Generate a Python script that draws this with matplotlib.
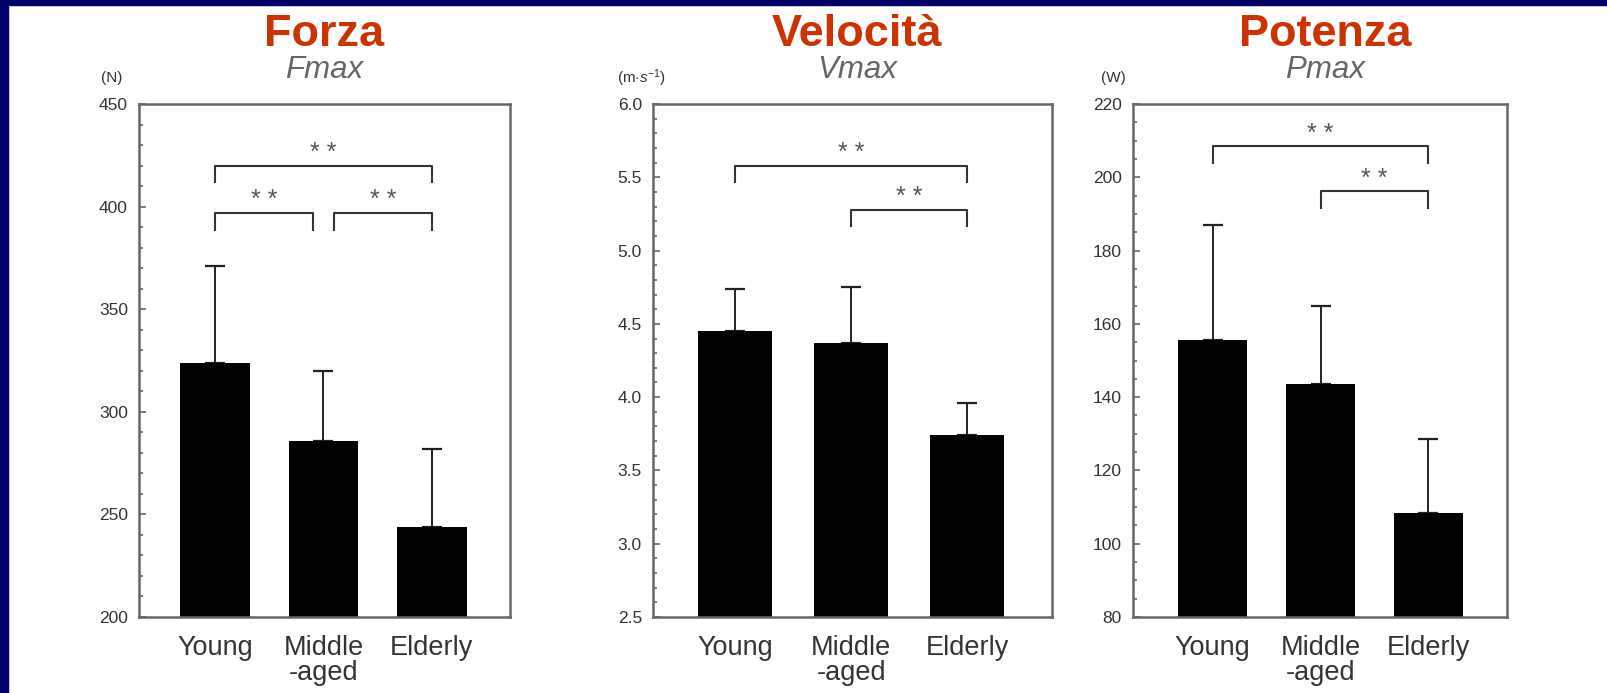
import matplotlib.pyplot as plt
import numpy as np
from matplotlib.patches import Rectangle
from matplotlib.ticker import MultipleLocator, FormatStrFormatter

plt.rcParams['font.family'] = ['Liberation Sans', 'DejaVu Sans']
plt.rcParams['mathtext.fontset'] = 'custom'
plt.rcParams['mathtext.rm'] = 'Liberation Sans'
plt.rcParams['mathtext.it'] = 'Liberation Sans:italic'

groups = ['Young', 'Middle\n-aged', 'Elderly']

titles = ['Forza', 'Velocità', 'Potenza']
subtitles = ['Fmax', 'Vmax', 'Pmax']
units = ['(N)', '(m$\\cdot$$s^{-1}$)', '(W)']

force_mean = [324, 286, 244]
force_sd = [47, 34, 38]
speed_mean = [4.45, 4.37, 3.74]
speed_sd = [0.29, 0.38, 0.22]
power_mean = [155.5, 143.5, 108.5]
power_sd = [31.5, 21.5, 20.0]

y_limits = [(200, 450), (2.5, 6.0), (80, 220)]
y_major = [50, 0.5, 20]
y_minor = [10, 0.1, 5]
y_fmt = ['%d', '%.1f', '%d']

# significance brackets: (group a, group b, bracket height)
force_sig = [(0, 2, 420), (0, 1, 397), (1, 2, 397)]
speed_sig = [(0, 2, 5.58), (1, 2, 5.28)]
power_sig = [(0, 2, 208.5), (1, 2, 196.3)]

means = [force_mean, speed_mean, power_mean]
sds = [force_sd, speed_sd, power_sd]
sigs = [force_sig, speed_sig, power_sig]

W, H = 1608, 693
fig = plt.figure(figsize=(W / 100, H / 100), dpi=100)
fig.patch.set_facecolor('white')

# navy slide frame on the left and top edges
fig.patches.append(Rectangle((0, 0), 8 / W, 1, transform=fig.transFigure,
                             color='#000066', zorder=0))
fig.patches.append(Rectangle((0, 1 - 5 / H), 1, 5 / H, transform=fig.transFigure,
                             color='#000066', zorder=0))

# axes boxes in pixels: left, right
boxes = [(139, 510), (653, 1052), (1133, 1507)]
ax_top, ax_bottom = 104, 617
unit_pos = [(-0.073, 1.05), (-0.03, 1.05), (-0.053, 1.05)]
xlims = [(-0.70, 2.72), (-0.71, 2.73), (-0.74, 2.73)]
title_shift = [0, 5, 5]

text_col = '#333333'
line_col = '#666666'

for k in range(3):
    l, r = boxes[k]
    ax = fig.add_axes([l / W, (H - ax_bottom) / H, (r - l) / W, (ax_bottom - ax_top) / H])
    x = np.arange(len(groups))
    ax.bar(x, means[k], width=0.64, color='black', zorder=2)
    ax.errorbar(x, means[k], yerr=[np.zeros(3), sds[k]], fmt='none',
                ecolor='#222222', elinewidth=1.4, capsize=7, capthick=1.6, zorder=1)

    lo, hi = y_limits[k]
    rng = hi - lo
    ax.set_ylim(lo, hi)
    ax.set_xlim(*xlims[k])
    ax.yaxis.set_major_locator(MultipleLocator(y_major[k]))
    ax.yaxis.set_minor_locator(MultipleLocator(y_minor[k]))
    ax.yaxis.set_major_formatter(FormatStrFormatter(y_fmt[k]))
    ax.tick_params(axis='y', which='major', direction='in', length=5, width=1.2,
                   color=line_col, labelsize=12.5, labelcolor=text_col, pad=8)
    ax.tick_params(axis='y', which='minor', direction='in', length=3, width=1.2,
                   color=line_col)
    ax.set_xticks(x)
    ax.set_xticklabels(groups, fontsize=19.5, color=text_col, linespacing=0.95)
    ax.tick_params(axis='x', length=0, pad=13)
    for s in ax.spines.values():
        s.set_color(line_col)
        s.set_linewidth(1.8)

    # brackets; neighbouring brackets on the same level leave a small gap
    drop = 0.033 * rng
    for a, b, yb in sigs[k]:
        x1, x2 = a, b
        for a2, b2, y2 in sigs[k]:
            if y2 == yb and b2 == a and (a2, b2) != (a, b):
                x1 += 0.1
            if y2 == yb and a2 == b and (a2, b2) != (a, b):
                x2 -= 0.1
        ax.plot([x1, x1, x2, x2], [yb - drop, yb, yb, yb - drop],
                color='#333333', lw=1.5, zorder=3)
        ax.text((x1 + x2) / 2, yb + 0.024 * rng, '* *', ha='center', va='center',
                fontsize=18, color='#555555')

    center = ((l + r) / 2 + title_shift[k]) / W
    fig.text(center, 1 - 34 / H, titles[k], ha='center', va='center',
             fontsize=32.5, fontweight='bold', color='#cc3300')
    fig.text(center, 1 - 70 / H, subtitles[k], ha='center', va='center',
             fontsize=22.5, style='italic', color='#666666')
    ax.text(unit_pos[k][0], unit_pos[k][1], units[k], transform=ax.transAxes,
            ha='center', va='center', fontsize=11, color=text_col)

fig.savefig('out.png', dpi=100, facecolor='white')
